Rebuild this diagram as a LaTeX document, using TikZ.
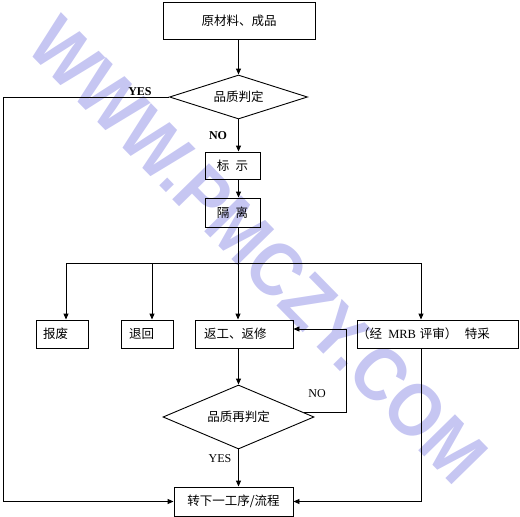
\documentclass[tikz,border=0pt]{standalone}
\usepackage{fontspec}
\setmainfont{Liberation Serif}
\newfontfamily\cjk{Noto Sans CJK SC}
\newfontfamily\wmfont{Liberation Sans}
\usetikzlibrary{shapes.geometric,arrows.meta}
\definecolor{wmcol}{RGB}{198,198,242}
\begin{document}
\begin{tikzpicture}[x=1pt,y=-1pt,line width=0.9pt,
  box/.style={draw, rectangle, inner sep=0pt, font=\cjk\fontsize{12.5}{14}\selectfont},
  lbox/.style={box, align=left, inner xsep=#1},
  dia/.style={draw, diamond, inner sep=0pt, font=\cjk\fontsize{12.5}{14}\selectfont},
  arr/.style={-{Triangle[length=6pt,width=5pt]}},
  lbl/.style={inner sep=0pt, font=\fontsize{12}{14}\selectfont},
  blbl/.style={lbl, font=\bfseries\fontsize{12}{14}\selectfont}]
\useasboundingbox (0,0) rectangle (520,517);
% watermark
\node[rotate=-45.6, text=wmcol, inner sep=0pt, yscale=1.1, font=\wmfont\bfseries\fontsize{68}{68}\selectfont] (wm) at (258,250) {WWW.PMCZY.COM};
% nodes
\node[box, minimum width=152pt, minimum height=37pt] (raw) at (239,20.5) {原材料、成品};
\node[dia, aspect=3.1, minimum width=138pt, minimum height=44pt] (d1) at (238.5,97) {品质判定};
\node[box, minimum width=55pt, minimum height=27pt] (mark) at (232.5,165.5) {标\hspace{0.5em}示};
\node[box, minimum width=55pt, minimum height=29pt] (iso) at (232.5,212.5) {隔\hspace{0.5em}离};
\node[lbox=7pt, text width=38pt, minimum height=28pt] (scrap) at (62,334) {报废};
\node[lbox=8pt, text width=36pt, minimum height=28pt] (ret) at (147,334) {退回};
\node[lbox=9pt, text width=80pt, minimum height=28pt] (rework) at (244,334) {返工、返修};
\node[lbox=0pt, text width=161pt, minimum height=28pt] (spec) at (437.5,334) {（经\hspace{0.5em}{\rmfamily MRB}\hspace{0.3em}评审）\hspace{0.6em}特采};
\node[dia, aspect=2.36, minimum width=151pt, minimum height=64pt] (d2) at (238.5,417) {品质再判定};
\node[box, minimum width=119pt, minimum height=29pt] (next) at (233.5,501.5) {转下一工序/流程};
% helper coordinates
\coordinate (br) at (238,263);
\coordinate (lft) at (3,0);
\coordinate (nl) at (346,0);
% connectors
\draw[arr] (raw.south -| d1.north) -- (d1.north);
\draw[arr] (d1.south) -- (d1.south |- mark.north);
\draw[arr] (mark.south -| d1.south) -- (iso.north -| d1.south);
\draw (iso.south -| br) -- (br);
\draw ([xshift=4pt]scrap.north |- br) -- ([xshift=-16.5pt]spec.north |- br);
\draw[arr] ([xshift=4pt]scrap.north |- br) -- ([xshift=4pt]scrap.north);
\draw[arr] ([xshift=5pt]ret.north |- br) -- ([xshift=5pt]ret.north);
\draw[arr] ([xshift=-6pt]rework.north |- br) -- ([xshift=-6pt]rework.north);
\draw[arr] ([xshift=-16.5pt]spec.north |- br) -- ([xshift=-16.5pt]spec.north);
\draw[arr] ([xshift=-5.5pt]rework.south) -- (d2.north);
\draw[arr] (d2.south) -- (d2.south |- next.north);
\draw[arr] (d2.4) -- (d2.4 -| nl) -- ([yshift=5pt]rework.east -| nl) -- ([yshift=5pt]rework.east);
\draw[arr] (d1.west) -- (d1.west -| lft) -- (next.west -| lft) -- (next.west);
\draw[arr] ([xshift=-16.5pt]spec.south) -- ([xshift=-16.5pt]spec.south |- next.east) -- (next.east);
% labels
\node[blbl] (yes1) at (140,92) {YES};
\node[blbl] (no1) at (218,136) {NO};
\node[lbl] (no2) at (317,394) {NO};
\node[lbl] (yes2) at (220,459) {YES};
\end{tikzpicture}
\end{document}
